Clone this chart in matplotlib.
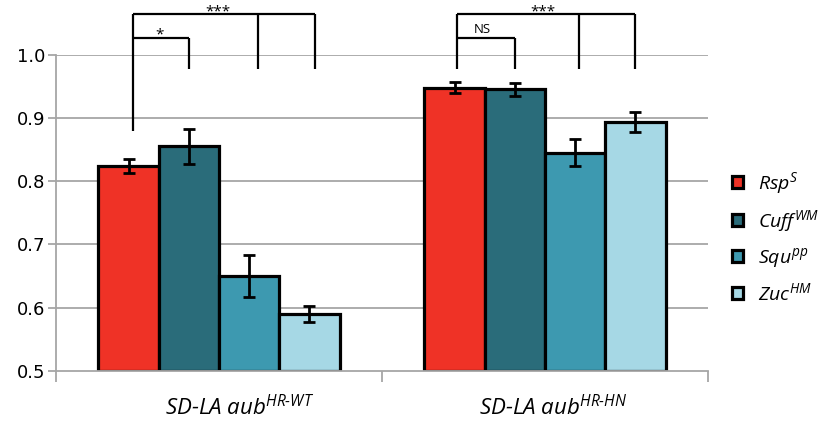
import matplotlib
matplotlib.use("Agg")
import matplotlib.pyplot as plt
from matplotlib.patches import Rectangle
import numpy as np

plt.rcParams['font.family'] = ['Open Sans', 'DejaVu Sans']
plt.rcParams['mathtext.fontset'] = 'custom'
plt.rcParams['mathtext.it'] = 'Open Sans:italic'
plt.rcParams['mathtext.rm'] = 'Open Sans:italic'

groups = ["SD-LA aub$^{HR\\text{-}WT}$", "SD-LA aub$^{HR\\text{-}HN}$"]
series = ["$Rsp^{S}$", "$Cuff^{WM}$", "$Squ^{pp}$", "$Zuc^{HM}$"]
colors = ["#EF3226", "#2A6C7A", "#3D99B0", "#A6D8E5"]
values = [
    [0.824, 0.855, 0.650, 0.590],   # aub HR-WT
    [0.948, 0.945, 0.845, 0.894],   # aub HR-HN
]
errors = [
    [0.011, 0.028, 0.033, 0.012],
    [0.009, 0.011, 0.021, 0.016],
]
yticks = [0.5, 0.6, 0.7, 0.8, 0.9, 1.0]
sig_top = ["***", "***"]
sig_pair = ["*", "NS"]

fig = plt.figure(figsize=(8.22, 4.21), dpi=100)
ax = fig.add_axes([56/822, 1-371/421, (708-56)/822, (371-54.7)/421])

bw = 0.185
centers = np.arange(len(groups)) + 0.5
grid_c = "#A6A6A6"
for yv in yticks[1:]:
    ax.axhline(yv, color=grid_c, lw=1.3, zorder=0)

bar_x = {}
for si in range(len(series)):
    xs = centers + (si - 1.5) * bw
    vals = [values[g][si] for g in range(len(groups))]
    errs = [errors[g][si] for g in range(len(groups))]
    ax.bar(xs, np.array(vals) - 0.5, bottom=0.5, width=bw, color=colors[si],
           edgecolor="black", linewidth=2.3, zorder=2, label=series[si])
    ax.errorbar(xs, vals, yerr=errs, fmt='none', ecolor='black', elinewidth=2,
                capsize=4, capthick=2, zorder=3)
    for g in range(len(groups)):
        bar_x[(g, si)] = xs[g]

ax.set_xlim(0, 2)
ax.set_ylim(0.5, 1.0)
ax.set_yticks(yticks)
ax.set_yticklabels([f"{v:.1f}" for v in yticks], fontsize=13, family='DejaVu Sans')
ax.set_xticks([0, 1, 2])
ax.set_xticklabels([])
ax.tick_params(axis='x', length=8, width=1.3, color=grid_c)
ax.tick_params(axis='y', length=6, width=1.3, color=grid_c, pad=2)
for s in ['top', 'right']:
    ax.spines[s].set_visible(False)
for s in ['left', 'bottom']:
    ax.spines[s].set_color(grid_c)
    ax.spines[s].set_linewidth(1.3)

# category labels (Excel places them slightly right of centre)
label_shift = [0.064, 0.025]
for g, lab in enumerate(groups):
    ax.text(centers[g] + label_shift[g], 0.4305, lab, ha='center', va='baseline',
            fontsize=16, fontstyle='italic', clip_on=False)

# significance brackets
offs = [[0.014, 0.0, 0.028, 0.017], [0.0075, 0.0, 0.012, 0.0]]
top_shift = [-0.018, -0.01]
pair_shift = [-0.003, -0.012]
top_y, mid_y, drop_y = 1.065, 1.026, 0.977
kw = dict(color='black', lw=1.6, clip_on=False, zorder=4, solid_capstyle='butt')
for g in range(len(groups)):
    xs = [bar_x[(g, i)] + offs[g][i] for i in range(4)]
    first_bottom = 0.879 if g == 0 else drop_y
    ax.plot([xs[0], xs[0]], [first_bottom, top_y], **kw)
    ax.plot([xs[0], xs[3]], [top_y, top_y], **kw)
    ax.plot([xs[2], xs[2]], [drop_y, top_y], **kw)
    ax.plot([xs[3], xs[3]], [drop_y, top_y], **kw)
    ax.plot([xs[0], xs[1]], [mid_y, mid_y], **kw)
    ax.plot([xs[1], xs[1]], [drop_y, mid_y], **kw)
    ax.text((xs[0] + xs[3]) / 2 + top_shift[g], 1.062, sig_top[g], ha='center',
            va='baseline', fontsize=11, clip_on=False)
    if sig_pair[g] == "NS":
        ax.text((xs[0] + xs[1]) / 2 + pair_shift[g], 1.0336, sig_pair[g], ha='center',
                va='baseline', fontsize=9.5, clip_on=False)
    else:
        ax.text((xs[0] + xs[1]) / 2 + pair_shift[g], 1.025, sig_pair[g], ha='center',
                va='baseline', fontsize=11, clip_on=False)

handles = [Rectangle((0, 0), 1, 1, facecolor=c, edgecolor='black', linewidth=2.3) for c in colors]
fig.legend(handles, series, loc='center left', bbox_to_anchor=(732/822, 1-237.2/421),
           frameon=False, fontsize=14, handlelength=0.58, handleheight=0.58,
           handletextpad=0.75, labelspacing=0.62, borderpad=0, borderaxespad=0)

fig.savefig("out.png", dpi=100)
